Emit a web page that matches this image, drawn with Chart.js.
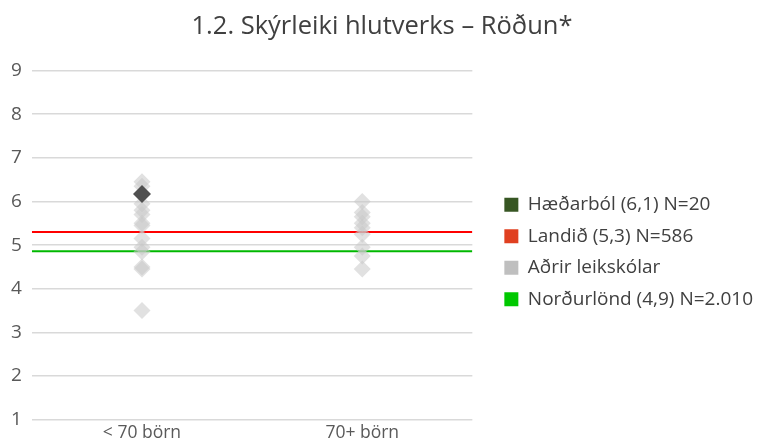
<!DOCTYPE html>
<html>
<head>
<meta charset="utf-8">
<script src="https://cdn.jsdelivr.net/npm/chart.js@4"></script>
<style>
  html, body { margin: 0; padding: 0; background: #fff; }
  #wrap { width: 763px; height: 441px; }
</style>
</head>
<body>
<div id="wrap"><canvas id="chart"></canvas></div>
<script>
const categories = ['< 70 börn', '70+ börn'];
const yTicks = [1, 2, 3, 4, 5, 6, 7, 8, 9];

// Aðrir leikskólar, per size group
const othersSmall = [6.45, 6.35, 5.95, 5.8, 5.7, 5.5, 5.45, 5.15, 4.95, 4.85, 4.5, 4.45, 3.5];
const othersLarge = [6.0, 5.75, 5.65, 5.5, 5.4, 5.25, 4.95, 4.75, 4.45];

// Hæðarból
const schoolCat = '< 70 börn';
const schoolValue = 6.17;

const landidValue = 5.3;
const nordurlondValue = 4.86;

const legendLabels = ['Hæðarból (6,1) N=20', 'Landið (5,3) N=586', 'Aðrir leikskólar', 'Norðurlönd (4,9) N=2.010'];
const legendColors = ['#375623', '#E04020', '#BFBFBF', '#00C800'];

const FONT = '"Open Sans", Lato, sans-serif';

const othersData = []
  .concat(othersSmall.map(v => ({ x: categories[0], y: v })))
  .concat(othersLarge.map(v => ({ x: categories[1], y: v })));

new Chart('chart', {
  type: 'line',
  data: {
    labels: categories,
    datasets: [
      {
        label: legendLabels[0],
        data: [{ x: schoolCat, y: schoolValue }],
        showLine: false,
        pointStyle: 'rectRot',
        pointRadius: 9,
        pointBackgroundColor: '#505050',
        pointBorderWidth: 0,
        order: 0
      },
      {
        label: legendLabels[1],
        data: [{ x: 0, y: landidValue }, { x: 1, y: landidValue }],
        xAxisID: 'x2',
        borderColor: '#FF0000',
        borderWidth: 2,
        pointRadius: 0,
        order: 2
      },
      {
        label: legendLabels[2],
        data: othersData,
        showLine: false,
        pointStyle: 'rectRot',
        pointRadius: 8.5,
        pointBackgroundColor: 'rgba(200,200,200,0.55)',
        pointBorderWidth: 0,
        order: 1
      },
      {
        label: legendLabels[3],
        data: [{ x: 0, y: nordurlondValue }, { x: 1, y: nordurlondValue }],
        xAxisID: 'x2',
        borderColor: '#00B800',
        borderWidth: 2,
        pointRadius: 0,
        order: 2
      }
    ]
  },
  options: {
    responsive: true,
    maintainAspectRatio: false,
    animation: false,
    layout: { padding: { left: 1, right: 0, top: 4, bottom: 0 } },
    plugins: {
      tooltip: { enabled: false },
      title: {
        display: true,
        text: '1.2. Skýrleiki hlutverks – Röðun*',
        color: '#404040',
        font: { family: FONT, size: 25.5, weight: 'normal' },
        padding: { top: 7, bottom: 29 }
      },
      legend: {
        position: 'right',
        fullSize: false,
        maxWidth: 320,
        title: { display: true, text: '', font: { size: 12, lineHeight: 1 }, padding: 1 },
        labels: {
          color: '#404040',
          font: { family: FONT, size: 19 },
          boxWidth: 14,
          boxHeight: 14,
          padding: 12.5,
          generateLabels: () => legendLabels.map((t, i) => ({
            text: t,
            fillStyle: legendColors[i],
            strokeStyle: legendColors[i],
            lineWidth: 0,
            fontColor: '#404040',
            datasetIndex: i
          }))
        }
      }
    },
    scales: {
      x: {
        type: 'category',
        offset: true,
        grid: { display: false, drawTicks: false },
        border: { display: false },
        ticks: { color: '#595959', font: { family: FONT, size: 17.5, lineHeight: 1 }, padding: 5 },
        afterFit: s => { s.height = 21; }
      },
      x2: {
        type: 'linear',
        min: 0,
        max: 1,
        display: false
      },
      y: {
        min: 1,
        max: 9,
        afterBuildTicks: s => { s.ticks = yTicks.map(v => ({ value: v })); },
        grid: { color: '#D9D9D9', lineWidth: 1.5, drawTicks: false },
        border: { display: false },
        ticks: { color: '#595959', font: { family: FONT, size: 19 }, padding: 10 }
      },
      yR: {
        position: 'right',
        display: true,
        grid: { display: false, drawTicks: false },
        border: { display: false },
        ticks: { display: false },
        afterFit: s => { s.width = 19.5; }
      }
    }
  }
});
</script>
</body>
</html>
